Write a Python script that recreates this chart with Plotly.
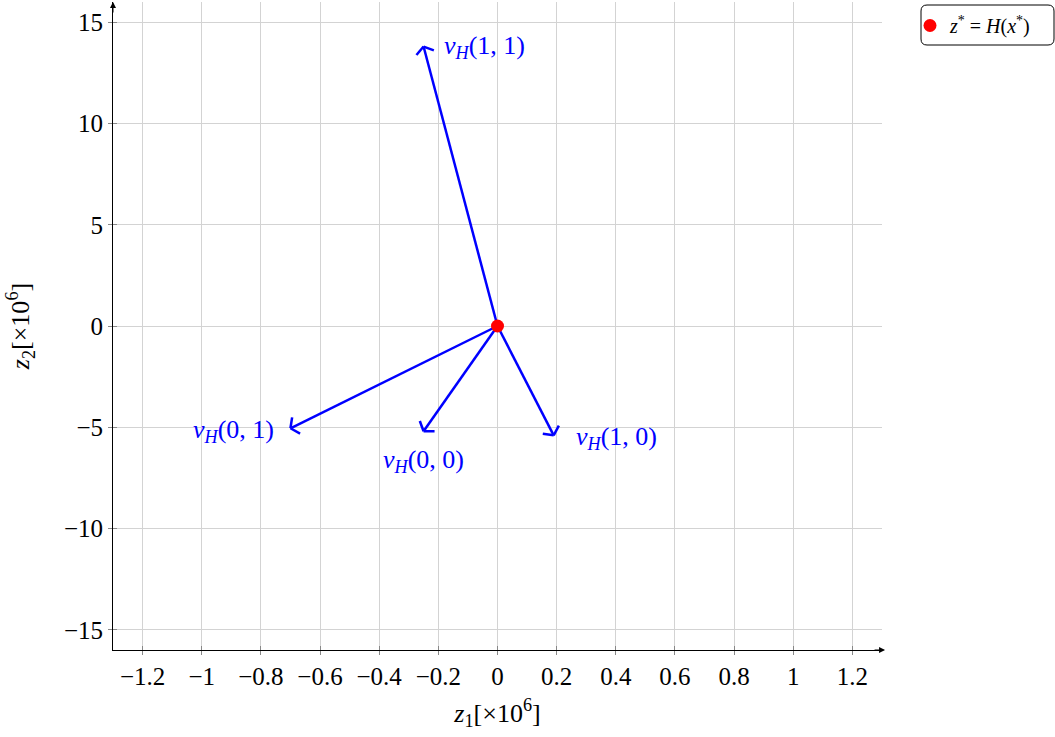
import math
import plotly.graph_objects as go

# Images of the unit-square corners under H (in units of 1e6)
labels = ["v<sub>H</sub>(1, 1)", "v<sub>H</sub>(0, 1)", "v<sub>H</sub>(0, 0)", "v<sub>H</sub>(1, 0)"]
z1_end = [-0.25, -0.70, -0.25, 0.19]
z2_end = [13.8, -5.05, -5.2, -5.4]
origin = (0.0, 0.0)

x_ticks = [-1.2, -1.0, -0.8, -0.6, -0.4, -0.2, 0.0, 0.2, 0.4, 0.6, 0.8, 1.0, 1.2]
x_ticktext = ["\u22121.2", "\u22121", "\u22120.8", "\u22120.6", "\u22120.4", "\u22120.2",
              "0", "0.2", "0.4", "0.6", "0.8", "1", "1.2"]
y_ticks = [-15, -10, -5, 0, 5, 10, 15]
y_ticktext = ["\u221215", "\u221210", "\u22125", "0", "5", "10", "15"]

X_RANGE = [-1.3, 1.3]
Y_RANGE = [-16, 16]

W, H = 1055, 737
M = dict(l=113, r=173, t=2, b=87)
plot_w = W - M["l"] - M["r"]
plot_h = H - M["t"] - M["b"]
px_x = plot_w / (X_RANGE[1] - X_RANGE[0])
px_y = plot_h / (Y_RANGE[1] - Y_RANGE[0])

BLUE = "#0000ff"
FONT = "Liberation Serif"


def label_html(s):
    # italic v and H, upright parentheses and digits
    return s.replace("v<sub>H</sub>", "<i>v</i><sub><i>H</i></sub>")


def px_to_paper_x(px):
    return (px - M["l"]) / plot_w


def px_to_paper_y(py):
    return (H - M["b"] - py) / plot_h


fig = go.Figure()

# arrow shafts and open chevron heads (head geometry computed in screen space)
xs, ys = [], []
head_len, head_ang = 11.0, math.radians(55)
for ex, ey in zip(z1_end, z2_end):
    xs += [origin[0], ex, None]
    ys += [origin[1], ey, None]
    dx = (ex - origin[0]) * px_x
    dy = (ey - origin[1]) * px_y
    n = math.hypot(dx, dy)
    bx, by = -dx / n, -dy / n
    for s in (1, -1):
        ca, sa = math.cos(s * head_ang), math.sin(s * head_ang)
        wx = bx * ca - by * sa
        wy = bx * sa + by * ca
        xs += [ex + wx * head_len / px_x, ex, None]
        ys += [ey + wy * head_len / px_y, ey, None]

fig.add_trace(go.Scatter(
    x=xs, y=ys, mode="lines",
    line=dict(color=BLUE, width=2.5),
    showlegend=False, hoverinfo="skip",
))

fig.add_trace(go.Scatter(
    x=[origin[0]], y=[origin[1]], mode="markers",
    marker=dict(color="#ff0000", size=13),
    name="<i>z</i><sup>*</sup> = <i>H</i>(<i>x</i><sup>*</sup>)",
))

# overlay axes carrying the inward half of the tick marks
fig.add_trace(go.Scatter(x=[None], y=[None], xaxis="x2", yaxis="y2",
                         showlegend=False, hoverinfo="skip"))

# text labels beside each arrow tip
label_pos = [
    dict(xanchor="left", yanchor="middle", xshift=18, yshift=0),
    dict(xanchor="right", yanchor="middle", xshift=-14, yshift=-3),
    dict(xanchor="center", yanchor="top", xshift=0, yshift=-12),
    dict(xanchor="left", yanchor="middle", xshift=20, yshift=-3),
]
for txt, ex, ey, pos in zip(labels, z1_end, z2_end, label_pos):
    fig.add_annotation(x=ex, y=ey, xref="x", yref="y", text=label_html(txt),
                       showarrow=False, font=dict(family=FONT, size=26, color=BLUE),
                       **pos)

# axis arrowheads
fig.add_annotation(x=1.004, y=0, xref="paper", yref="paper", ax=-12, ay=0,
                   text="", showarrow=True, arrowhead=2, arrowsize=1.2,
                   arrowwidth=1, arrowcolor="black")
fig.add_annotation(x=0, y=1.0, xref="paper", yref="paper", ax=0, ay=12,
                   text="", showarrow=True, arrowhead=2, arrowsize=1.2,
                   arrowwidth=1, arrowcolor="black")

# rounded frame around the legend entry
x0, x1 = px_to_paper_x(921), px_to_paper_x(1054)
y0, y1 = px_to_paper_y(45), px_to_paper_y(5)
rx, ry = 6 / plot_w, 6 / plot_h
path = (f"M {x0 + rx},{y0} L {x1 - rx},{y0} Q {x1},{y0} {x1},{y0 + ry} "
        f"L {x1},{y1 - ry} Q {x1},{y1} {x1 - rx},{y1} "
        f"L {x0 + rx},{y1} Q {x0},{y1} {x0},{y1 - ry} "
        f"L {x0},{y0 + ry} Q {x0},{y0} {x0 + rx},{y0} Z")
fig.add_shape(type="path", path=path, xref="paper", yref="paper",
              line=dict(color="black", width=1), fillcolor="white", layer="below")

axis_common = dict(showline=True, linecolor="black", linewidth=1,
                   ticks="outside", ticklen=4, tickcolor="#888888", tickwidth=1,
                   gridcolor="#d3d3d3", gridwidth=1, zeroline=False,
                   tickfont=dict(family=FONT, size=25, color="black"))

fig.update_layout(
    width=W, height=H,
    margin=M,
    paper_bgcolor="white", plot_bgcolor="white",
    font=dict(family=FONT, color="black"),
    xaxis=dict(range=X_RANGE, tickvals=x_ticks, ticktext=x_ticktext,
               title=dict(text="<i>z</i><sub>1</sub>[\u00d710<sup>6</sup>]",
                          font=dict(family=FONT, size=26), standoff=14),
               **axis_common),
    yaxis=dict(range=Y_RANGE, tickvals=y_ticks, ticktext=y_ticktext,
               title=dict(text="<i>z</i><sub>2</sub>[\u00d710<sup>6</sup>]",
                          font=dict(family=FONT, size=26), standoff=26),
               **axis_common),
    xaxis2=dict(range=X_RANGE, overlaying="x", tickvals=x_ticks, ticks="inside",
                ticklen=4, tickcolor="#888888", showticklabels=False,
                showgrid=False, zeroline=False, anchor="y2", side="bottom"),
    yaxis2=dict(range=Y_RANGE, overlaying="y", tickvals=y_ticks, ticks="inside",
                ticklen=4, tickcolor="#888888", showticklabels=False,
                showgrid=False, zeroline=False, anchor="x2", side="left"),
    legend=dict(x=px_to_paper_x(910), y=px_to_paper_y(6), xanchor="left", yanchor="top",
                borderwidth=0, bgcolor="rgba(0,0,0,0)",
                font=dict(family=FONT, size=20), itemwidth=30,
                tracegroupgap=0),
    showlegend=True,
)

fig.write_html("out.html")
